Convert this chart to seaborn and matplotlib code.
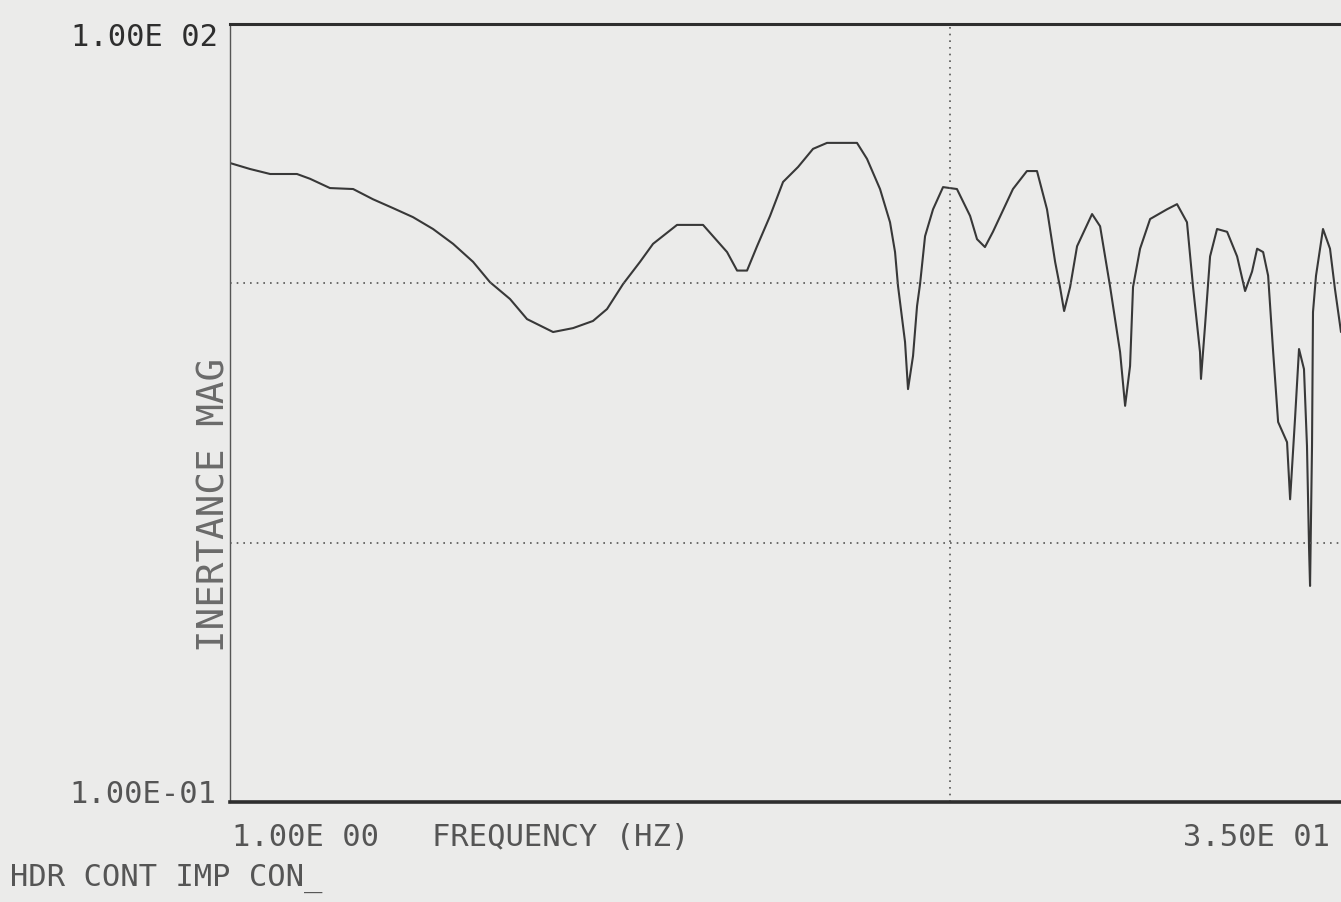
import numpy as np
import pandas as pd
import matplotlib
matplotlib.use("Agg")
import matplotlib.pyplot as plt
import seaborn as sns

# ---- data (frequency in Hz, inertance magnitude) ----
freq = [1.000, 1.066, 1.137, 1.239, 1.292, 1.377, 1.483, 1.580, 1.685, 1.796,
        1.915, 2.042, 2.177, 2.298, 2.450, 2.587, 2.812, 2.998, 3.195, 3.342,
        3.518, 3.714, 3.872, 4.181, 4.544, 4.907, 5.067, 5.231, 5.401, 5.631,
        5.870, 6.159, 6.461, 6.757, 7.437, 7.679, 8.006, 8.266, 8.400, 8.480,
        8.673, 8.756, 8.898, 9.013, 9.100, 9.247, 9.486, 9.795, 10.24, 10.68,
        10.92, 11.20, 11.49, 12.25, 12.81, 13.23, 13.66, 14.02, 14.24, 14.43,
        14.71, 15.04, 15.78, 16.19, 16.72, 17.26, 17.54, 17.82, 17.99, 18.40,
        19.00, 20.06, 20.71, 21.38, 21.80, 22.29, 22.36, 22.65, 23.02, 23.54,
        24.31, 25.10, 25.75, 26.33, 26.76, 27.28, 27.72, 28.17, 28.62, 29.45,
        29.74, 30.21, 30.60, 31.09, 31.39, 31.60, 31.70, 31.90, 32.00, 32.31,
        33.04, 33.79, 34.33, 35.00]
mag = [29.1, 27.6, 26.4, 26.4, 25.3, 23.3, 23.1, 21.1, 19.5, 18.0,
       16.2, 14.2, 12.1, 10.1, 8.70, 7.28, 6.49, 6.72, 7.16, 7.96,
       9.94, 12.1, 14.2, 16.8, 16.8, 13.2, 11.2, 11.2, 13.9, 18.2,
       24.6, 28.1, 33.0, 34.8, 34.8, 30.2, 23.1, 17.2, 13.2, 9.77,
       5.94, 3.91, 5.25, 8.18, 9.94, 15.2, 19.3, 23.5, 23.1, 18.2,
       14.8, 13.8, 15.8, 23.1, 27.1, 27.1, 19.3, 12.1, 9.68, 7.82,
       9.68, 13.9, 18.5, 16.6, 9.68, 5.43, 3.37, 4.80, 9.68, 13.6,
       17.7, 19.3, 20.2, 17.2, 9.68, 5.43, 4.28, 6.84, 12.7, 16.2,
       15.8, 12.7, 9.34, 11.1, 13.6, 13.2, 10.7, 5.43, 2.92, 2.44,
       1.47, 3.00, 5.58, 4.67, 2.36, 0.946, 0.681, 2.36, 7.75, 10.7,
       16.2, 13.6, 9.51, 6.49]

y_ticks = [0.1, 100.0]
y_tick_labels = ["1.00E-01", "1.00E 02"]
x_ticks = [1.0, 35.0]
x_tick_labels = ["1.00E 00", "3.50E 01"]
grid_x = [10.0]
grid_y = [1.0, 10.0]

df = pd.DataFrame({"freq": freq, "mag": mag})

sns.set_theme(style="white")
plt.rcParams["font.family"] = ["DejaVu Sans Mono", "DejaVu Sans"]

BG = "#ebebea"

fig = plt.figure(figsize=(13.41, 9.03), dpi=100, facecolor=BG)
ax = fig.add_axes([230 / 1341, 100 / 903, 1111 / 1341, 778 / 903])
ax.set_facecolor(BG)

sns.lineplot(data=df, x="freq", y="mag", ax=ax, color="#383838",
             linewidth=1.5, sort=False, estimator=None)

ax.set_xscale("log")
ax.set_yscale("log")
ax.set_xlim(x_ticks[0], x_ticks[1])
ax.set_ylim(y_ticks[0], y_ticks[1])

for gx in grid_x:
    ax.axvline(gx, color="#555555", linestyle=(0, (1, 3)), linewidth=1.2)
for gy in grid_y:
    ax.axhline(gy, color="#555555", linestyle=(0, (1, 3)), linewidth=1.2)

ax.set_xticks([])
ax.set_yticks([])
ax.minorticks_off()
ax.set_xlabel("")
ax.set_ylabel("")

ax.spines["right"].set_visible(False)
ax.spines["top"].set_linewidth(2.2)
ax.spines["bottom"].set_linewidth(2.6)
ax.spines["left"].set_linewidth(1.0)
for s in ("top", "bottom", "left"):
    ax.spines[s].set_color("#2e2e2e")
ax.spines["left"].set_color("#555555")

fs = 22
# y limit labels
fig.text(218 / 1341, 1 - 38 / 903, y_tick_labels[1], ha="right", va="center",
         fontsize=fs, color="#2e2e2e")
fig.text(216 / 1341, 1 - 795 / 903, y_tick_labels[0], ha="right", va="center",
         fontsize=fs, color="#555555")
# x limit labels
fig.text(232 / 1341, 1 - 838 / 903, x_tick_labels[0], ha="left", va="center",
         fontsize=fs, color="#555555")
fig.text(1330 / 1341, 1 - 838 / 903, x_tick_labels[1], ha="right", va="center",
         fontsize=fs, color="#555555")
fig.text(432 / 1341, 1 - 838 / 903, "FREQUENCY (HZ)", ha="left", va="center",
         fontsize=fs, color="#555555")
# y axis label
fig.text(215 / 1341, 1 - 505 / 903, "INERTANCE MAG", ha="center", va="center",
         rotation=90, fontsize=27, color="#6a6a6a")
# footer
fig.text(10 / 1341, 1 - 878 / 903, "HDR CONT IMP CON_", ha="left", va="center",
         fontsize=fs, color="#555555")

fig.savefig("out.png", dpi=100, facecolor=BG)
